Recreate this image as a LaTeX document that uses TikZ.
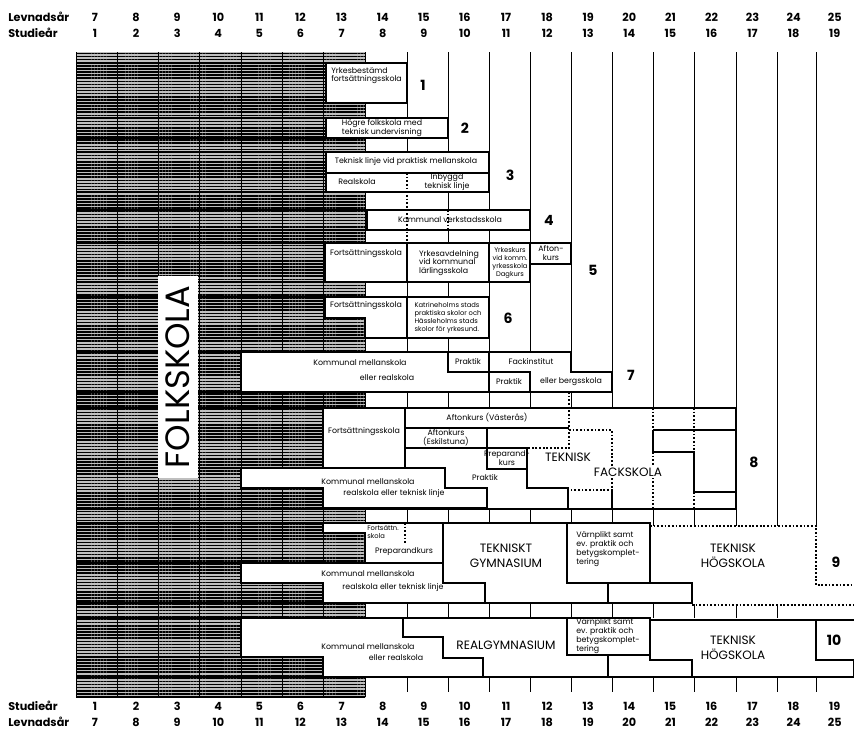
\documentclass[tikz,border=0pt]{standalone}
\usepackage{fontspec}
\setmainfont{Poppins}
\usetikzlibrary{patterns.meta}

\begin{document}
\begin{tikzpicture}[x=0.025cm, y=-0.025cm, every node/.style={align=center, inner sep=0pt},
  boxd/.style={draw, fill=white, line width=0.9pt},
  gridln/.style={line width=0.6pt},
  dotln/.style={line width=0.9pt, dash pattern=on 1.3pt off 1.3pt},
  lbl/.style={font=\fontsize{5.6}{6.3}\selectfont},
  tiny/.style={font=\fontsize{4.8}{5.6}\selectfont},
  bigl/.style={font=\fontsize{8.6}{10.4}\selectfont},
  numl/.style={font=\fontsize{10}{10}\selectfont\bfseries},
  hdr/.style={font=\fontsize{8}{10}\selectfont\bfseries}]
\useasboundingbox (0,0) rectangle (854,731);
\fill[white] (0,0) rectangle (854,731);
%================================================================
%	Folkskola (hatched)
\fill[black!25] (76,52) rectangle (365,697);
\fill[pattern={Lines[angle=0,distance=2.2pt,line width=1.1pt]}, pattern color=black] (76,52) rectangle (365,697);
\foreach \x in {76,117,158,199,241,282,323,365} \draw[gridln] (\x,52) -- (\x,697);
\foreach \y in {63,103,118,138,152,192,210,230,243,282,297,338,352,392,408,468,509,523,563,603,618,657,677,697}
  \draw[line width=1pt] (76,\y) -- (365,\y);
\fill[white] (158,276) rectangle (198,478);
\node[rotate=90, font=\fontsize{24}{24}\selectfont] (folk) at (178,377) {FOLKSKOLA};
%================================================================
%	Year lines
\draw[gridln] (407,52) -- (407,173);
\draw[gridln] (407,243) -- (407,692);
\foreach \x in {448,489,530,571,612,653,694,736,777} \draw[gridln] (\x,52) -- (\x,692);
\draw[gridln] (816,52) -- (816,526);
\draw[gridln] (816,677) -- (816,692);
%================================================================
%	Groups 1--4
\draw[boxd] (326,63) rectangle (407,103);
\draw[boxd] (326,118) rectangle (448,138);
\draw[boxd] (326,152) rectangle (489,173);
\draw[boxd] (326,173) rectangle (489,192);
\draw[boxd] (367,210) rectangle (530,230);
\draw[dotln] (407,173) -- (407,243);
\draw[dotln] (448,210) -- (448,230);
%----------------------------------------------------------------
%	Groups 5--7
\draw[boxd] (325,243) rectangle (407,282);
\draw[boxd] (407,243) rectangle (489,282);
\draw[boxd] (489,243) rectangle (530,282);
\draw[boxd] (530,243) rectangle (571,264);
\draw[boxd] (325,297) -- (407,297) -- (407,338) -- (365,338) -- (365,318) -- (325,318) -- cycle;
\draw[boxd] (407,297) rectangle (489,338);
\draw[boxd] (241,352) -- (448,352) -- (448,372) -- (489,372) -- (489,392) -- (241,392) -- cycle;
\draw[boxd] (448,352) rectangle (489,372);
\draw[boxd] (489,352) -- (571,352) -- (571,372) -- (612,372) -- (612,392) -- (530,392) -- (530,372) -- (489,372) -- cycle;
\draw[boxd] (489,372) rectangle (530,392);
\draw[gridln] (323,392) -- (612,392);
\draw[gridln] (323,392) -- (323,408);
%----------------------------------------------------------------
%	Group 8
\fill[white] (323,408) rectangle (736,509);
\draw[boxd] (323,408) -- (736,408) -- (736,509) -- (323,509);
\draw[boxd] (323,408) rectangle (405,468);
\draw[boxd] (405,408) -- (569,408);
\draw[boxd] (405,428) -- (569,428);
\draw[boxd] (405,408) -- (405,468);
\draw[boxd] (405,428) rectangle (487,448);
\draw[boxd] (487,448) rectangle (527,469);
\draw[line width=0.9pt] (527,469) -- (527,488) -- (568,488) -- (568,509);
\draw[boxd] (241,468) -- (445,468) -- (445,488) -- (487,488) -- (487,508) -- (323,508) -- (323,488) -- (241,488) -- cycle;
\draw[dotln] (569,392) -- (569,448) -- (527,448);
\draw[dotln] (569,430) -- (612,430) -- (612,490) -- (569,490);
\draw[line width=0.9pt] (612,490) -- (612,509);
\draw[line width=0.9pt] (653,430) -- (736,430);
\draw[line width=0.9pt] (653,430) -- (653,452) -- (694,452) -- (694,492) -- (736,492);
\draw[dotln] (653,408) -- (653,430);
\draw[dotln] (694,408) -- (694,452);
\draw[dotln] (653,452) -- (653,509);
\draw[dotln] (694,492) -- (694,509);
%----------------------------------------------------------------
%	Group 9
\fill[white] (365,523) rectangle (650,604);
\fill[white] (650,526) rectangle (854,604);
\draw[boxd] (323,523) -- (443,523) -- (443,563) -- (365,563) -- (365,533) -- (323,533) -- cycle;
\draw[dotln] (405,523) -- (405,543);
\draw[boxd] (241,563) -- (443,563) -- (443,583) -- (485,583) -- (485,603) -- (323,603) -- (323,583) -- (241,583) -- cycle;
\draw[boxd] (443,523) -- (567,523) -- (567,583) -- (608,583) -- (608,603) -- (485,603) -- (485,583) -- (443,583) -- cycle;
\draw[boxd] (567,523) rectangle (650,583);
\draw[line width=0.9pt] (608,603) -- (692,603);
\draw[line width=0.9pt] (650,526) -- (650,583) -- (692,583) -- (692,604);
\draw[dotln] (650,526) -- (816,526) -- (816,585) -- (854,585);
\draw[dotln] (692,605) -- (854,605);
%----------------------------------------------------------------
%	Group 10
\fill[white] (323,618) rectangle (854,677);
\draw[boxd] (241,618) -- (403,618) -- (403,637) -- (443,637) -- (443,658) -- (483,658) -- (483,677) -- (323,677) -- (323,657) -- (241,657) -- cycle;
\draw[boxd] (403,618) -- (567,618) -- (567,650) -- (608,650) -- (608,677) -- (483,677) -- (483,658) -- (443,658) -- (443,637) -- (403,637) -- cycle;
\draw[boxd] (567,618) rectangle (650,655);
\draw[boxd] (650,620) -- (816,620) -- (816,660) -- (854,660) -- (854,677) -- (692,677) -- (692,660) -- (650,660) -- cycle;
\draw[boxd] (816,620) rectangle (856,660);
\draw[line width=0.9pt] (608,677) -- (854,677);
\draw[line width=0.9pt] (608,618) -- (650,618);

%================================================================
%	Labels
\node[hdr, anchor=west] (levt) at (8,17) {Levnadsår};
\node[hdr, anchor=west] (stut) at (8,33) {Studieår};
\node[hdr, anchor=west] (stub) at (8,706) {Studieår};
\node[hdr, anchor=west] (levb) at (8,722) {Levnadsår};
\foreach \k in {1,...,19} {
  \pgfmathtruncatemacro\a{\k+6}
  \node[hdr] (lt\k) at ({95+41.1*(\k-1)},17) {\a};
  \node[hdr] (st\k) at ({95+41.1*(\k-1)},33) {\k};
  \node[hdr] (sb\k) at ({95+41.1*(\k-1)},706) {\k};
  \node[hdr] (lb\k) at ({95+41.1*(\k-1)},722) {\a};
}
%----------------------------------------------------------------
\node[numl] (n1) at (423,85) {1};
\node[numl] (n2) at (465,128) {2};
\node[numl] (n3) at (510,175) {3};
\node[numl] (n4) at (549,220) {4};
\node[numl] (n5) at (593,270) {5};
\node[numl] (n6) at (508,318) {6};
\node[numl] (n7) at (631,375) {7};
\node[numl] (n8) at (754,462) {8};
\node[numl] (n9) at (836,562) {9};
\node[numl] (n10) at (834,640) {10};
%----------------------------------------------------------------
\node[lbl, align=left, anchor=north west] (yrk) at (331,67) {Yrkesbestämd\\fortsättningsskola};
\node[lbl, align=left] (hog) at (382,128) {Högre folkskola med\\teknisk undervisning};
\node[lbl] (tlin) at (406,162) {Teknisk linje vid praktisk mellanskola};
\node[lbl] (real) at (357,182) {Realskola};
\node[lbl] (inb) at (447,182) {Inbyggd\\teknisk linje};
\node[lbl] (verk) at (450,220) {Kommunal verkstadsskola};
\node[lbl] (fs5) at (366,254) {Fortsättningsskola};
\node[lbl, align=left] (yrav) at (449,263) {Yrkesavdelning\\vid kommunal\\lärlingsskola};
\node[tiny] (yrkk) at (510,263) {Yrkeskurs\\vid komm.\\yrkesskola\\Dagkurs};
\node[lbl] (aft5) at (551,253) {Afton-\\kurs};
\node[lbl] (fs6) at (366,306) {Fortsättningsskola};
\node[tiny, align=left] (kat) at (448,318) {Katrineholms stads\\praktiska skolor och\\Hässleholms stads\\skolor för yrkesund.};
\node[lbl] (km7a) at (360,363) {Kommunal mellanskola};
\node[lbl] (km7b) at (387,378) {eller realskola};
\node[lbl] (pr7a) at (468,362) {Praktik};
\node[lbl] (fack) at (531,362) {Fackinstitut};
\node[lbl] (berg) at (571,382) {eller bergsskola};
\node[lbl] (pr7b) at (509,382) {Praktik};
%----------------------------------------------------------------
\node[lbl] (fs8) at (364,432) {Fortsättningsskola};
\node[lbl] (vas) at (487,418) {Aftonkurs (Västerås)};
\node[lbl] (esk) at (446,438) {Aftonkurs\\(Eskilstuna)};
\node[lbl] (prep8) at (507,458) {Preparand-\\kurs};
\node[lbl] (pr8) at (485,478) {Praktik};
\node[lbl] (km8a) at (368,482) {Kommunal mellanskola};
\node[lbl] (km8b) at (394,494) {realskola eller teknisk linje};
\node[bigl, fill=white, inner sep=1pt] (tfa) at (568,457) {TEKNISK};
\node[bigl, fill=white, inner sep=1pt] (tfb) at (628,472) {FACKSKOLA};
%----------------------------------------------------------------
\node[tiny, align=left, anchor=north west] (fs9) at (367,525) {Fortsättn.\\skola};
\node[lbl] (prep9) at (404,552) {Preparandkurs};
\node[lbl] (km9a) at (368,574) {Kommunal mellanskola};
\node[lbl] (km9b) at (393,588) {realskola eller teknisk linje};
\node[bigl] (tgym) at (506,556) {TEKNISKT\\GYMNASIUM};
\node[lbl, align=left] (varn9) at (608,549) {Värnplikt samt\\ev. praktik och\\betygskomplet-\\tering};
\node[bigl] (th9) at (733,556) {TEKNISK\\HÖGSKOLA};
%----------------------------------------------------------------
\node[lbl] (km10a) at (368,647) {Kommunal mellanskola};
\node[lbl] (km10b) at (396,658) {eller realskola};
\node[bigl] (rgym) at (506,645) {REALGYMNASIUM};
\node[lbl, align=left] (varn10) at (608,636) {Värnplikt samt\\ev. praktik och\\betygskomplet-\\tering};
\node[bigl] (th10) at (733,648) {TEKNISK\\HÖGSKOLA};
%================================================================
\end{tikzpicture}
\end{document}
